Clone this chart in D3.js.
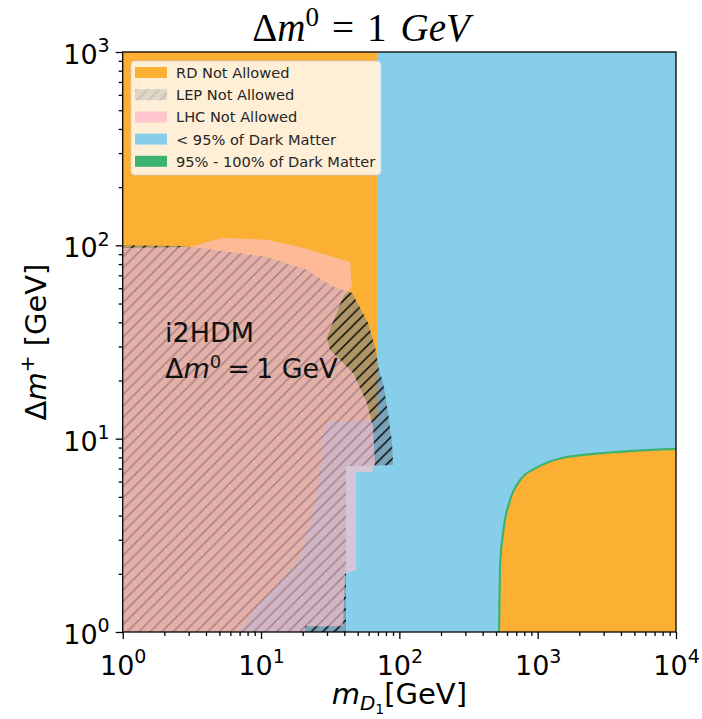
<!DOCTYPE html>
<html>
<head>
<meta charset="utf-8">
<script src="https://cdn.jsdelivr.net/npm/d3@7"></script>
<style>
  body { margin: 0; background: #fff; }
  svg { display: block; font-family: "DejaVu Sans", sans-serif; }
</style>
</head>
<body>
<svg id="chart" width="702" height="719"></svg>
<script>
// ---- axis extents (GeV) and tick labels ----
const massDomain  = [1, 1e4];
const deltaDomain = [1, 1e3];
const majorTicksX = [1, 10, 100, 1000, 10000];
const majorTicksY = [1, 10, 100, 1000];
const tickExponentsX = ["0", "1", "2", "3", "4"];
const tickExponentsY = ["0", "1", "2", "3"];

// ---- relic density: over-abundant corner at heavy mass (boundary curve) ----
const rdMass  = [526, 535, 562, 631, 746, 990, 1450, 2830, 4890, 10000];
const rdDelta = [1, 2.2, 3.25, 4.8, 6.1, 7.1, 7.9, 8.4, 8.65, 8.85];

// ---- left edge of the under-abundant (< 95% of DM) region, top to bottom ----
const underMass  = [69, 69, 30, 27.6, 26.7, 23.8, 19.1, 15.4, 9.8, 6.8];
const underDelta = [1000, 12.5, 12.2, 9.85, 6.65, 4.13, 2.44, 2.02, 1.41, 1];

// ---- LEP exclusion contour ----
const lepMass  = [1, 2.6, 3.6, 11, 21.5, 33, 45.5, 59.4, 66.7, 71.3, 76.3, 82.8, 88.6, 90, 41.1, 41.1, 1];
const lepDelta = [100, 99.3, 97, 87, 74.6, 61, 56.7, 39.7, 29.8, 22.7, 19.4, 13.6, 9.5, 7.3, 7.2, 1, 1];

// ---- LHC exclusion contour ----
const lhcMass  = [1, 3.07, 4.07, 5.31, 11, 19.1, 33.2, 44, 45.5, 39.2, 30, 31.5, 46.2, 58.4, 64.5, 66.7, 63.4, 48.6, 48.6, 40.5, 39.2, 20.8, 20.8, 1];
const lhcDelta = [97, 98.1, 104, 109, 107, 98.1, 87.1, 82, 60.9, 54.1, 33.6, 28.8, 21.9, 15.3, 11.5, 7.31, 6.73, 6.73, 2.09, 2.0, 1.07, 1.07, 1, 1];

// ---- legend ----
const legendLabels = ["RD Not Allowed", "LEP Not Allowed", "LHC Not Allowed",
                      "< 95% of Dark Matter", "95% - 100% of Dark Matter"];
const legendKeys = ["rd", "lep", "lhc", "under", "relic"];

const colors = {
  rd: "#FBB034",
  under: "#87CEEB",
  relic: "#3CB371",
  lhc: "#FFC0CB",
  lep: "#708090"
};

const svg = d3.select("#chart");
const plot = { left: 122.7, right: 676, top: 52, bottom: 632 };

const x = d3.scaleLog().domain(massDomain).range([plot.left, plot.right]);
const y = d3.scaleLog().domain(deltaDomain).range([plot.bottom, plot.top]);

const defs = svg.append("defs");
defs.append("clipPath").attr("id", "plotClip")
  .append("rect")
  .attr("x", x(massDomain[0])).attr("y", y(deltaDomain[1]))
  .attr("width", x(massDomain[1]) - x(massDomain[0]))
  .attr("height", y(deltaDomain[0]) - y(deltaDomain[1]));

// diagonal "/" hatch used for the LEP region
function addHatch(id, stroke, width) {
  const s = 11.5;
  const p = defs.append("pattern").attr("id", id)
    .attr("patternUnits", "userSpaceOnUse")
    .attr("width", s).attr("height", s);
  p.append("path")
    .attr("d", `M0,${s} L${s},0 M${-s/4},${s/4} L${s/4},${-s/4} M${s*3/4},${s*5/4} L${s*5/4},${s*3/4}`)
    .attr("stroke", stroke).attr("stroke-width", width).attr("fill", "none");
}
addHatch("hatch", "#000", 1.4);
addHatch("hatchLegend", "#9a9a9a", 1.0);

const line = d3.line().x(d => x(d[0])).y(d => y(d[1]));
const g = svg.append("g").attr("clip-path", "url(#plotClip)");

// base: relic density not allowed everywhere by default
g.append("rect")
  .attr("x", x(massDomain[0])).attr("y", y(deltaDomain[1]))
  .attr("width", x(massDomain[1]) - x(massDomain[0]))
  .attr("height", y(deltaDomain[0]) - y(deltaDomain[1]))
  .attr("fill", colors.rd);

// under-abundant region
const underPts = d3.zip(underMass, underDelta)
  .concat([[massDomain[1], deltaDomain[0]], [massDomain[1], deltaDomain[1]]]);
g.append("path").attr("d", line(underPts) + "Z").attr("fill", colors.under);

// over-abundant corner at heavy mass
const rdPts = d3.zip(rdMass, rdDelta);
const rdCurve = d3.line().x(d => x(d[0])).y(d => y(d[1])).curve(d3.curveMonotoneX);
g.append("path")
  .attr("d", rdCurve(rdPts) + `L${x(massDomain[1])},${y(deltaDomain[0])}Z`)
  .attr("fill", colors.rd);
// thin band where the relic abundance matches 95% - 100%
g.append("path").attr("d", rdCurve(rdPts))
  .attr("fill", "none").attr("stroke", colors.relic).attr("stroke-width", 2.2);

// LEP exclusion: translucent grey + hatch
const lepPts = d3.zip(lepMass, lepDelta);
g.append("path").attr("d", line(lepPts) + "Z").attr("fill", colors.lep).attr("fill-opacity", 0.55);
g.append("path").attr("d", line(lepPts) + "Z").attr("fill", "url(#hatch)");

// LHC exclusion: translucent pink on top
const lhcPts = d3.zip(lhcMass, lhcDelta);
g.append("path").attr("d", line(lhcPts) + "Z").attr("fill", colors.lhc).attr("fill-opacity", 0.65);

// ---- axes ----
function minorTicks(dom) {
  const out = [];
  for (let p = dom[0]; p < dom[1]; p *= 10)
    for (let k = 2; k <= 9; k++) out.push(p * k);
  return out;
}
function superscriptLabels(sel, exps) {
  sel.selectAll(".tick text").each(function(d, i) {
    const t = d3.select(this);
    t.text("10");
    t.append("tspan").attr("font-size", "19px").attr("dy", "-0.6em").text(exps[i]);
  });
}

const fontTick = "27px";
const gx = svg.append("g").attr("transform", `translate(0,${plot.bottom})`)
  .call(d3.axisBottom(x).tickValues(majorTicksX).tickSize(7).tickPadding(6).tickFormat(() => ""));
const gxMinor = svg.append("g").attr("transform", `translate(0,${plot.bottom})`)
  .call(d3.axisBottom(x).tickValues(minorTicks(massDomain)).tickSize(4).tickFormat(() => ""));
const gy = svg.append("g").attr("transform", `translate(${plot.left},0)`)
  .call(d3.axisLeft(y).tickValues(majorTicksY).tickSize(7).tickPadding(6).tickFormat(() => ""));
const gyMinor = svg.append("g").attr("transform", `translate(${plot.left},0)`)
  .call(d3.axisLeft(y).tickValues(minorTicks(deltaDomain)).tickSize(4).tickFormat(() => ""));

[gx, gxMinor, gy, gyMinor].forEach(a => {
  a.select(".domain").remove();
  a.selectAll(".tick line").attr("stroke", "#000").attr("stroke-width", 1.3);
});
gx.selectAll(".tick text").attr("font-size", fontTick).attr("fill", "#000")
  .attr("font-family", "DejaVu Sans").attr("dy", "1.1em");
superscriptLabels(gx, tickExponentsX);
gy.selectAll(".tick text").attr("font-size", fontTick).attr("fill", "#000")
  .attr("font-family", "DejaVu Sans").attr("dy", "0.42em");
superscriptLabels(gy, tickExponentsY);

// frame
svg.append("rect")
  .attr("x", x(massDomain[0])).attr("y", y(deltaDomain[1]))
  .attr("width", x(massDomain[1]) - x(massDomain[0]))
  .attr("height", y(deltaDomain[0]) - y(deltaDomain[1]))
  .attr("fill", "none").attr("stroke", "#000").attr("stroke-width", 1.3);

// ---- axis labels ----
const xl = svg.append("text").attr("x", (plot.left + plot.right) / 2).attr("y", 704)
  .attr("text-anchor", "middle").attr("font-size", "29px").attr("fill", "#000");
xl.append("tspan").attr("font-style", "italic").text("m");
xl.append("tspan").attr("font-style", "italic").attr("font-size", "20px").attr("dy", "6").text("D");
xl.append("tspan").attr("font-size", "14px").attr("dy", "4").text("1");
xl.append("tspan").attr("dy", "-10").text("[GeV]");

const yl = svg.append("text")
  .attr("transform", `translate(46,${(plot.top + plot.bottom) / 2}) rotate(-90)`)
  .attr("text-anchor", "middle").attr("font-size", "29px").attr("fill", "#000");
yl.append("tspan").text("Δ");
yl.append("tspan").attr("font-style", "italic").text("m");
yl.append("tspan").attr("font-size", "20px").attr("dy", "-12").text("+");
yl.append("tspan").attr("dy", "12").text(" [GeV]");

// ---- title ----
const title = svg.append("text").attr("x", 361).attr("y", 41)
  .attr("text-anchor", "middle").attr("font-family", "Liberation Serif, serif")
  .attr("font-size", "39px").attr("fill", "#000");
title.append("tspan").text("Δ");
title.append("tspan").attr("font-style", "italic").text("m");
title.append("tspan").attr("font-size", "27px").attr("dy", "-15").text("0");
title.append("tspan").attr("dy", "15").attr("dx", "13").text("=");
title.append("tspan").attr("dx", "13").text("1");
title.append("tspan").attr("dx", "14").attr("font-style", "italic").text("GeV");

// ---- in-plot annotation ----
svg.append("text").attr("x", 165).attr("y", 342).attr("font-size", "27px").attr("fill", "#111")
  .text("i2HDM");
const ann = svg.append("text").attr("x", 165).attr("y", 378).attr("font-size", "27px").attr("fill", "#111");
ann.append("tspan").text("Δ");
ann.append("tspan").attr("font-style", "italic").text("m");
ann.append("tspan").attr("font-size", "18px").attr("dy", "-10").text("0");
ann.append("tspan").attr("dy", "10").attr("dx", "6").text("=");
ann.append("tspan").attr("dx", "6").text("1 GeV");

// ---- legend ----
const lg = svg.append("g").attr("transform", "translate(131,61)");
lg.append("rect").attr("width", 250).attr("height", 114).attr("rx", 4)
  .attr("fill", "#fff").attr("fill-opacity", 0.8)
  .attr("stroke", "#d0d0d0").attr("stroke-opacity", 0.8);
legendKeys.forEach((k, i) => {
  const cy = 11.5 + i * 22.2;
  const row = lg.append("g").attr("transform", `translate(0,${cy})`);
  const sw = (fill, op) => row.append("rect").attr("x", 4).attr("y", -5.5)
    .attr("width", 32).attr("height", 11).attr("fill", fill).attr("fill-opacity", op);
  if (k === "lep") {
    sw(colors.lep, 0.22);
    sw("url(#hatchLegend)", 0.6);
  } else if (k === "lhc") {
    sw(colors.lhc, 0.9);
  } else {
    sw(colors[k], 1);
  }
  row.append("text").attr("x", 45).attr("y", 5.5)
    .attr("font-size", "14.6px").attr("fill", "#262626").text(legendLabels[i]);
});
</script>
</body>
</html>
